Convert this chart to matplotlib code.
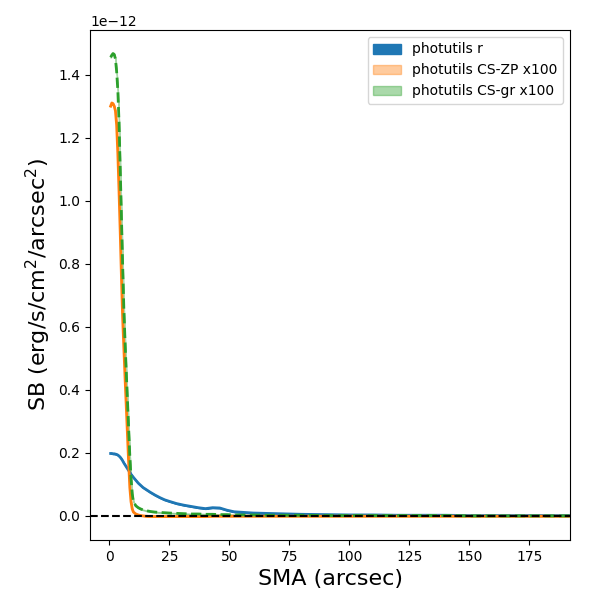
import numpy as np
import matplotlib
matplotlib.use("Agg")
import matplotlib.pyplot as plt

# semi-major axis samples (arcsec)
sma = [0.5, 1, 1.5, 2, 2.5, 3, 3.5, 4, 4.5, 5, 5.5, 6, 6.5, 7, 7.5, 8, 8.5, 9, 9.5, 10,
       11, 12, 13, 14, 15, 17, 19, 21, 23, 25, 28, 31, 34, 37, 40, 43, 46, 49, 52, 56,
       60, 65, 70, 75, 80, 90, 100, 110, 120, 130, 140, 150, 160, 170, 180, 192]

# surface brightness, units of 1e-12 erg/s/cm^2/arcsec^2
sb_r = [0.198, 0.198, 0.197, 0.197, 0.196, 0.195, 0.193, 0.190, 0.186, 0.181, 0.175, 0.168,
        0.162, 0.156, 0.150, 0.144, 0.138, 0.132, 0.127, 0.122,
        0.113, 0.104, 0.097, 0.090, 0.085, 0.075, 0.066, 0.058, 0.051, 0.046, 0.039, 0.034,
        0.030, 0.026, 0.023, 0.026, 0.025, 0.018, 0.013, 0.011,
        0.009, 0.008, 0.007, 0.006, 0.005, 0.004, 0.003, 0.003, 0.002, 0.002, 0.002, 0.001,
        0.001, 0.001, 0.001, 0.001]

sb_cs_zp = [1.300, 1.310, 1.308, 1.300, 1.285, 1.240, 1.150, 1.030, 0.900, 0.760, 0.630, 0.535,
            0.440, 0.350, 0.260, 0.170, 0.090, 0.045, 0.022, 0.012,
            0.006, 0.003, 0.001, 0.000, -0.001, -0.002, -0.002, -0.002, -0.002, -0.002, -0.002,
            -0.002, -0.002, -0.002, -0.002, -0.001, -0.001, -0.001, -0.001, -0.001,
            -0.001, -0.001, -0.001, -0.001, -0.001, -0.001, -0.001, -0.001, -0.001, -0.001,
            -0.001, -0.001, -0.001, -0.001, -0.001, -0.001]

sb_cs_gr = [1.455, 1.462, 1.467, 1.464, 1.450, 1.410, 1.350, 1.250, 1.100, 0.950, 0.800, 0.660,
            0.555, 0.460, 0.370, 0.280, 0.190, 0.120, 0.070, 0.045,
            0.032, 0.026, 0.022, 0.019, 0.017, 0.014, 0.012, 0.011, 0.010, 0.009, 0.008, 0.007,
            0.006, 0.006, 0.005, 0.005, 0.004, 0.004, 0.003, 0.003,
            0.003, 0.002, 0.002, 0.002, 0.002, 0.001, 0.001, 0.001, 0.001, 0.001, 0.001, 0.000,
            0.000, 0.000, 0.000, 0.000]

# band half-widths
err_r = 0.001
err_zp = 0.001
err_gr = 0.001

sma = np.array(sma)
r = np.array(sb_r) * 1e-12
zp = np.array(sb_cs_zp) * 1e-12
gr = np.array(sb_cs_gr) * 1e-12

fig = plt.figure(figsize=(6, 6), dpi=100)
ax = fig.add_axes([0.15, 0.1, 0.8, 0.85])

ax.fill_between(sma, r - err_r * 1e-12, r + err_r * 1e-12, color='C0', label='photutils r')
ax.fill_between(sma, zp - err_zp * 1e-12, zp + err_zp * 1e-12, color='C1', alpha=0.4,
                label='photutils CS-ZP x100')
ax.fill_between(sma, gr - err_gr * 1e-12, gr + err_gr * 1e-12, color='C2', alpha=0.4,
                label='photutils CS-gr x100')

ax.plot(sma, r, color='C0', lw=2)
ax.plot(sma, zp, color='C1', lw=2)
ax.plot(sma, gr, color='C2', lw=2, ls='--')
ax.axhline(0, color='k', ls='--', lw=1.5)

ax.set_xlim(-8.1, 192)
ax.set_xlabel('SMA (arcsec)', fontsize=16)
ax.set_ylabel('SB (erg/s/cm$^2$/arcsec$^2$)', fontsize=16)
ax.legend(loc='upper right')

fig.savefig('out.png', dpi=100)
